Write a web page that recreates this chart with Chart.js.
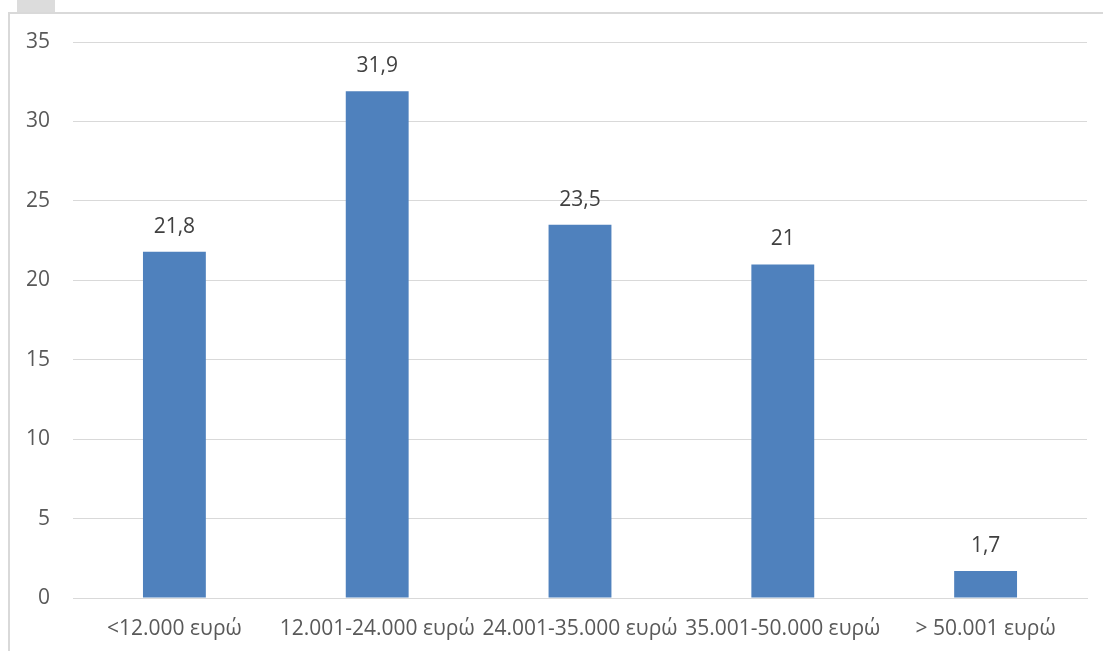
<!DOCTYPE html>
<html>
<head>
<meta charset="utf-8">
<script src="https://cdn.jsdelivr.net/npm/chart.js@4.4.0/dist/chart.umd.min.js"></script>
<style>
  html, body { margin: 0; padding: 0; background: #fff; }
  .wrap { position: relative; width: 1103px; height: 651px; overflow: hidden; }
  .tab { position: absolute; left: 17px; top: 0; width: 38px; height: 12px; background: #dcdcdc; }
  .frame { position: absolute; left: 8px; top: 12px; width: 1200px; height: 700px;
           border-top: 2px solid #d9d9d9; border-left: 2px solid #d9d9d9; }
  canvas { position: absolute; left: 0; top: 0; }
</style>
</head>
<body>
<div class="wrap">
  <div class="tab"></div>
  <div class="frame"></div>
  <canvas id="chart" width="1103" height="651"></canvas>
</div>
<script>
const categories = ['<12.000 ευρώ', '12.001-24.000 ευρώ', '24.001-35.000 ευρώ', '35.001-50.000 ευρώ', '> 50.001 ευρώ'];
const values = [21.8, 31.9, 23.5, 21, 1.7];
const yTicks = [0, 5, 10, 15, 20, 25, 30, 35];

const FONT = '"Open Sans", sans-serif';
const FONT_SIZE = 21;

// value labels above each bar, Greek decimal comma
const barLabels = {
  id: 'barLabels',
  afterDatasetsDraw(chart) {
    const ctx = chart.ctx;
    const meta = chart.getDatasetMeta(0);
    ctx.save();
    ctx.font = FONT_SIZE + 'px ' + FONT;
    ctx.fillStyle = '#404040';
    ctx.textAlign = 'center';
    ctx.textBaseline = 'middle';
    meta.data.forEach((bar, i) => {
      ctx.fillText(String(values[i]).replace('.', ','), bar.x, bar.y - 25);
    });
    ctx.restore();
  }
};

new Chart(document.getElementById('chart'), {
  type: 'bar',
  data: {
    labels: categories,
    datasets: [{
      data: values,
      backgroundColor: '#4f81bd',
      borderWidth: 0,
      barPercentage: 0.31,
      categoryPercentage: 1
    }]
  },
  plugins: [barLabels],
  options: {
    responsive: false,
    animation: false,
    layout: { padding: { top: 42, right: 16, bottom: 0, left: 0 } },
    plugins: { legend: { display: false }, tooltip: { enabled: false } },
    scales: {
      x: {
        grid: { display: false, drawTicks: false },
        border: { display: true, color: '#d9d9d9', width: 1 },
        ticks: { color: '#595959', font: { family: FONT, size: FONT_SIZE }, padding: 18, maxRotation: 0, autoSkip: false },
        afterFit(scale) { scale.height = 53; }
      },
      y: {
        min: 0,
        max: 35,
        afterBuildTicks(scale) { scale.ticks = yTicks.map(v => ({ value: v })); },
        grid: { color: '#d9d9d9', lineWidth: 1, drawTicks: false },
        border: { display: false },
        ticks: { color: '#595959', font: { family: FONT, size: FONT_SIZE }, padding: 23 },
        afterFit(scale) { scale.width = 73; }
      }
    }
  }
});
</script>
</body>
</html>
